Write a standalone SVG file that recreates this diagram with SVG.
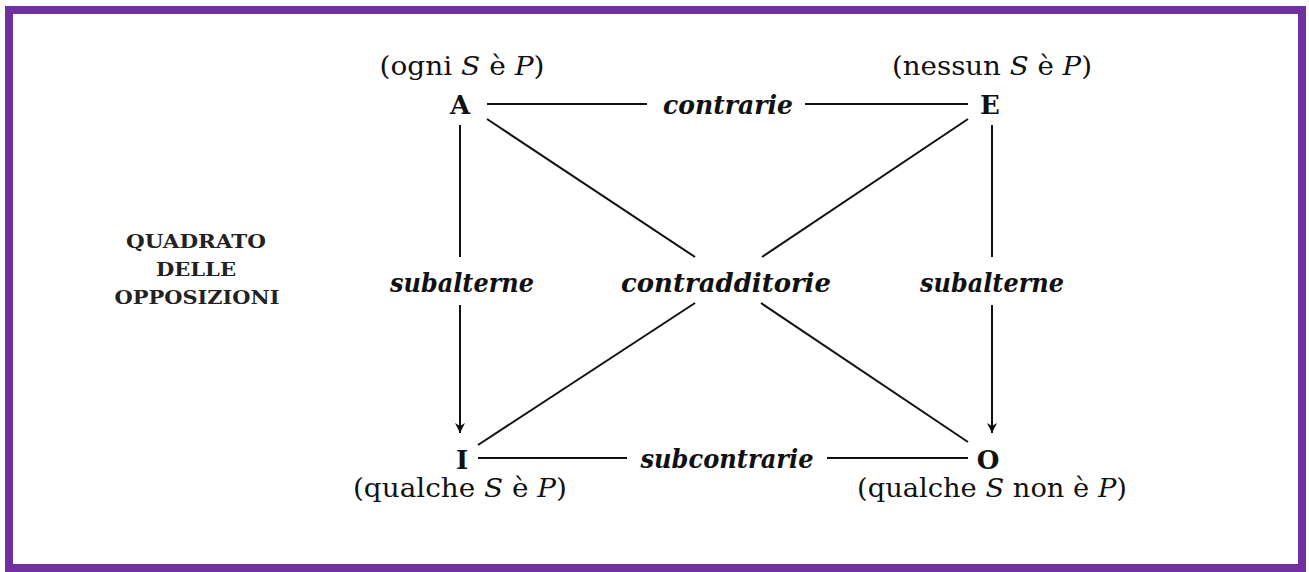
<svg xmlns="http://www.w3.org/2000/svg" width="1309" height="572" viewBox="0 0 1309 572">
<style>
.t{font-family:"DejaVu Serif","Liberation Serif",serif;font-size:26px;fill:#111;text-anchor:middle}
.b{font-weight:bold}
.i{font-style:italic}
.lbl{font-family:"DejaVu Serif","Liberation Serif",serif;font-size:26px;font-style:italic;font-weight:bold;fill:#111;text-anchor:middle}
.ttl{font-family:"DejaVu Serif","Liberation Serif",serif;font-size:18px;font-weight:bold;fill:#222;text-anchor:middle}
.ln{stroke:#111;stroke-width:2;fill:none}
</style>
<defs>
<marker id="arr" viewBox="0 0 10 10" refX="10" refY="5" markerWidth="10" markerHeight="10" markerUnits="userSpaceOnUse" orient="auto">
<path d="M0,0 L10,5 L0,10 L3,5 Z" fill="#111"/>
</marker>
</defs>
<rect x="0" y="0" width="1309" height="572" fill="#fff"/>
<rect x="9" y="10" width="1293" height="558" fill="#fff" stroke="#7030a0" stroke-width="8"/>

<g id="title">
<text class="ttl" x="196" y="248" textLength="140" lengthAdjust="spacingAndGlyphs">QUADRATO</text>
<text class="ttl" x="196" y="276" textLength="80" lengthAdjust="spacingAndGlyphs">DELLE</text>
<text class="ttl" x="197" y="304" textLength="165" lengthAdjust="spacingAndGlyphs">OPPOSIZIONI</text>
</g>

<g id="node-A">
<text class="t" x="462" y="75" textLength="165" lengthAdjust="spacingAndGlyphs">(ogni <tspan class="i">S</tspan> è <tspan class="i">P</tspan>)</text>
<text class="t b" x="460" y="114">A</text>
</g>
<g id="node-E">
<text class="t" x="992" y="75" textLength="200" lengthAdjust="spacingAndGlyphs">(nessun <tspan class="i">S</tspan> è <tspan class="i">P</tspan>)</text>
<text class="t b" x="990" y="114">E</text>
</g>
<g id="node-I">
<text class="t b" x="462" y="469">I</text>
<text class="t" x="460" y="497" textLength="214" lengthAdjust="spacingAndGlyphs">(qualche <tspan class="i">S</tspan> è <tspan class="i">P</tspan>)</text>
</g>
<g id="node-O">
<text class="t b" x="988" y="469">O</text>
<text class="t" x="992" y="497" textLength="270" lengthAdjust="spacingAndGlyphs">(qualche <tspan class="i">S</tspan> non è <tspan class="i">P</tspan>)</text>
</g>

<g id="connectors">
<line class="ln" x1="487" y1="104" x2="647" y2="104"/>
<line class="ln" x1="805" y1="104" x2="968" y2="104"/>
<line class="ln" x1="478" y1="458" x2="627" y2="458"/>
<line class="ln" x1="827" y1="458" x2="968" y2="458"/>
<line class="ln" x1="460" y1="125" x2="460" y2="257"/>
<line class="ln" x1="460" y1="305" x2="460" y2="433" marker-end="url(#arr)"/>
<line class="ln" x1="992" y1="125" x2="992" y2="257"/>
<line class="ln" x1="992" y1="305" x2="992" y2="433" marker-end="url(#arr)"/>
<line class="ln" x1="487" y1="119" x2="695" y2="257"/>
<line class="ln" x1="761" y1="303" x2="968" y2="442"/>
<line class="ln" x1="968" y1="119" x2="762" y2="257"/>
<line class="ln" x1="695" y1="303" x2="478" y2="445"/>
<text class="lbl" x="728" y="114" textLength="130" lengthAdjust="spacingAndGlyphs">contrarie</text>
<text class="lbl" x="727" y="468" textLength="173" lengthAdjust="spacingAndGlyphs">subcontrarie</text>
<text class="lbl" x="462" y="292" textLength="144" lengthAdjust="spacingAndGlyphs">subalterne</text>
<text class="lbl" x="992" y="292" textLength="144" lengthAdjust="spacingAndGlyphs">subalterne</text>
<text class="lbl" x="726" y="292" textLength="210" lengthAdjust="spacingAndGlyphs">contradditorie</text>
</g>
</svg>
